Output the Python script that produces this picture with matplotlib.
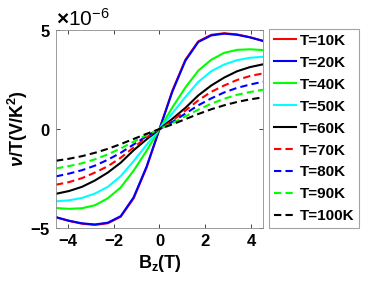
import numpy as np
import matplotlib
matplotlib.use("Agg")
import matplotlib.pyplot as plt
from matplotlib.ticker import ScalarFormatter

plt.rcParams.update({
    "font.family": ["Liberation Sans", "DejaVu Sans"],
    "font.weight": "bold",
    "font.size": 12,
    "mathtext.fontset": "custom",
    "mathtext.rm": "Liberation Sans:bold",
    "mathtext.bf": "Liberation Sans:bold",
    "mathtext.it": "Liberation Sans:italic:bold",
})

# field points (T), positive half; the curves are odd in B
b_pos = [0.0, 0.5625, 1.125, 1.6875, 2.25, 2.8125, 3.375, 3.9375, 4.5]

# nu/T in units of 1e-6 V/K^2 at b_pos
temps = ["T=10K", "T=20K", "T=40K", "T=50K", "T=60K",
         "T=70K", "T=80K", "T=90K", "T=100K"]
nu_10k = [0, 1.95, 3.50, 4.43, 4.76, 4.84, 4.78, 4.64, 4.46]
nu_20k = [0, 1.90, 3.45, 4.40, 4.73, 4.82, 4.76, 4.63, 4.45]
nu_40k = [0, 1.10, 2.10, 2.95, 3.50, 3.85, 4.00, 4.03, 3.99]
nu_50k = [0, 0.80, 1.62, 2.38, 2.92, 3.26, 3.48, 3.60, 3.65]
nu_60k = [0, 0.52, 1.07, 1.70, 2.20, 2.60, 2.92, 3.13, 3.27]
nu_70k = [0, 0.42, 0.93, 1.45, 1.88, 2.20, 2.48, 2.68, 2.81]
nu_80k = [0, 0.36, 0.78, 1.20, 1.55, 1.85, 2.08, 2.25, 2.39]
nu_90k = [0, 0.30, 0.64, 0.98, 1.28, 1.53, 1.73, 1.87, 1.99]
nu_100k = [0, 0.24, 0.50, 0.76, 1.00, 1.20, 1.37, 1.50, 1.60]

series = [nu_10k, nu_20k, nu_40k, nu_50k, nu_60k,
          nu_70k, nu_80k, nu_90k, nu_100k]
colors = ["#ff0000", "#0000ff", "#00ff00", "#00ffff", "#000000",
          "#ff0000", "#0000ff", "#00ff00", "#000000"]
styles = ["-"] * 5 + ["--"] * 4

b = np.array(b_pos)
b_full = np.concatenate([-b[:0:-1], b])

fig = plt.figure(figsize=(3.89, 2.92), dpi=100)
ax = fig.add_axes([0.144, 0.219, 0.532, 0.678])

for vals, c, ls, lab in zip(series, colors, styles, temps):
    v = np.array(vals)
    v_full = np.concatenate([-v[:0:-1], v]) * 1e-6
    kw = dict(dashes=(3.5, 2)) if ls == "--" else {}
    ax.plot(b_full, v_full, color=c, lw=1.5, label=lab, **kw)

ax.set_xlim(-4.5, 4.5)
ax.set_ylim(-5e-6, 5e-6)
ax.set_xticks([-4, -2, 0, 2, 4])
ax.set_yticks([-5e-6, 0, 5e-6])
fmt = ScalarFormatter(useMathText=True)
fmt.set_powerlimits((-3, 3))
ax.yaxis.set_major_formatter(fmt)
ax.yaxis.get_offset_text().set_fontsize(15)
ax.yaxis.get_offset_text().set_fontweight("normal")

ax.tick_params(direction="in", length=3, width=0.6, top=True, right=True,
               colors="#262626", labelcolor="black", labelsize=12, pad=4)
for s in ax.spines.values():
    s.set_color("#8c8c8c")
    s.set_linewidth(0.6)

ax.set_xlabel(r"B$_\mathbf{z}$(T)", fontsize=13, fontweight="bold", labelpad=3)
ax.set_ylabel(r"$\nu$/T(V/K$^\mathbf{2}$)", fontsize=13, fontweight="bold", labelpad=0)

leg = fig.legend(loc="upper left", bbox_to_anchor=(0.692, 0.90),
                 fontsize=11, frameon=True, fancybox=False,
                 handlelength=1.45, handletextpad=0.25, borderpad=0.3,
                 labelspacing=0.52, borderaxespad=0)
leg.get_frame().set_edgecolor("#8c8c8c")
leg.get_frame().set_linewidth(0.8)
for t in leg.get_texts():
    t.set_fontweight("bold")

fig.savefig("out.png", dpi=100)
